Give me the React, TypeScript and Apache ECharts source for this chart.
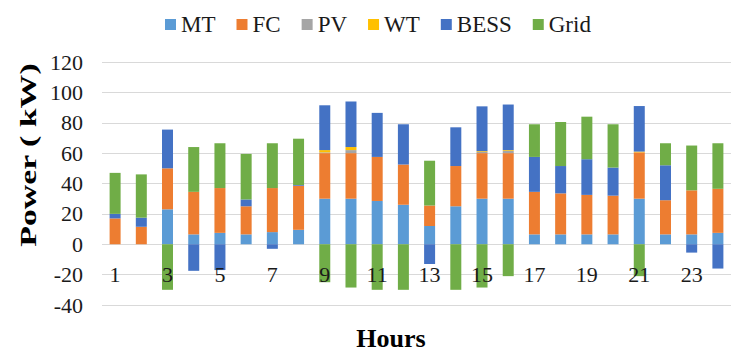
import React, { useEffect, useRef } from "react";
import * as echarts from "echarts";

const hours = Array.from({ length: 24 }, (_, i) => String(i + 1));
const seriesNames = ["MT", "FC", "PV", "WT", "BESS", "Grid"];
const colors = ["#5B9BD5", "#ED7D31", "#A5A5A5", "#FFC000", "#4472C4", "#70AD47"];

const MT = [0, 0, 23, 6.5, 7.5, 6.5, 8, 9.5, 30, 30, 28.5, 26, 12, 25, 30, 30, 6.5, 6.5, 6.5, 6.5, 30, 6.5, 6.5, 7.5];
const FC = [17, 11.5, 27, 28, 29.5, 18.5, 29, 29, 30, 30, 29, 26.5, 13.5, 26.5, 30, 30, 28, 27, 26, 25.5, 30.5, 22.5, 29, 29];
const PV = [0, 0, 0, 0, 0, 0, 0, 0, 0.5, 2, 0, 0, 0, 0, 0.8, 1.5, 0, 0, 0, 0, 0, 0, 0, 0];
const WT = [0, 0, 0, 0, 0, 0, 0, 0, 1.5, 2, 0, 0, 0, 0, 0.5, 0.5, 0, 0, 0, 0, 0.5, 0, 0, 0];
const BESS = [3, 6, 25.5, -17.5, -17, 4.5, -3, 0.5, 29.5, 30, 29, 26.5, -13, 25.5, 29.5, 30, 23, 18, 23.5, 18.5, 30, 23, -5.5, -16];
const Grid = [27, 28.5, -30, 29.5, 29.5, 30, 29.5, 30.5, -25, -28.5, -30, -30, 29.5, -30, -28.5, -21, 21.5, 29, 28, 28.5, -21, 14.5, 29.5, 30];

const yTicks = { min: -40, max: 120, interval: 20 };
const SERIF = "Liberation Serif";

export default function App() {
  const ref = useRef<HTMLDivElement>(null);
  useEffect(() => {
    if (!ref.current) return;
    const chart = echarts.init(ref.current, null, { renderer: "svg" });
    const data = [MT, FC, PV, WT, BESS, Grid];
    chart.setOption({
      animation: false,
      color: colors,
      textStyle: { fontFamily: SERIF },
      legend: {
        left: 160,
        top: 8,
        itemWidth: 11,
        itemHeight: 11,
        itemGap: 21,
        icon: "rect",
        textStyle: { fontFamily: SERIF, fontSize: 23, color: "#1a1a1a" },
        data: seriesNames,
      },
      grid: { left: 102, right: 5, top: 62, bottom: 49 },
      xAxis: {
        type: "category",
        data: hours,
        z: 10,
        position: "bottom",
        offset: -61,
        axisLine: { show: false, onZero: false },
        axisTick: { show: false },
        axisLabel: {
          interval: 1,
          margin: 19,
          fontFamily: SERIF,
          fontSize: 22,
          color: "#1a1a1a",
        },
      },
      yAxis: {
        type: "value",
        min: yTicks.min,
        max: yTicks.max,
        interval: yTicks.interval,
        axisLine: { show: false },
        axisTick: { show: false },
        splitLine: { lineStyle: { color: "#D9D9D9", width: 1 } },
        axisLabel: {
          margin: 19,
          fontFamily: SERIF,
          fontSize: 22,
          color: "#1a1a1a",
        },
      },
      graphic: [
        {
          type: "text",
          x: 391,
          y: 338,
          style: {
            text: "Hours",
            font: 'bold 26px "Liberation Serif"',
            fill: "#000",
            textAlign: "center",
            textVerticalAlign: "middle",
          },
        },
        {
          type: "text",
          x: 28,
          y: 155,
          rotation: Math.PI / 2,
          scaleX: 1.47,
          style: {
            text: "Power ( kW)",
            font: 'bold 23px "Liberation Serif"',
            fill: "#000",
            textAlign: "center",
            textVerticalAlign: "middle",
          },
        },
      ],
      series: seriesNames.map((name, i) => ({
        name,
        type: "bar",
        stack: "total",
        barWidth: 11,
        data: data[i],
      })),
    });
    return () => chart.dispose();
  }, []);
  return (
    <div
      ref={ref}
      style={{ position: "fixed", left: 0, top: 0, width: 736, height: 354, background: "#fff" }}
    />
  );
}
